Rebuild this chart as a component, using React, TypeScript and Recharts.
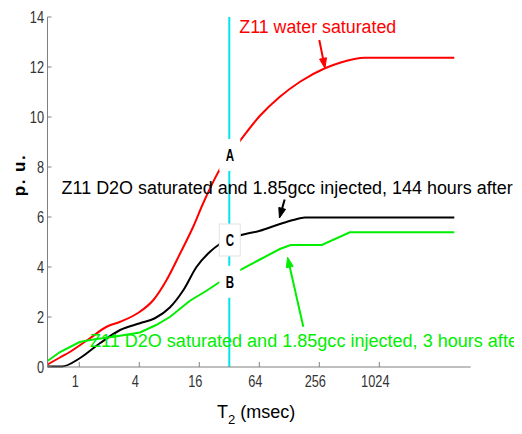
import React from 'react';
import { LineChart, Line, XAxis, YAxis, ReferenceLine, ReferenceDot } from 'recharts';

// T2 (msec) and porosity units
const waterT2 = [0.48, 0.64, 0.81, 1.28, 1.88, 2.57, 3.92, 5.54, 7.52, 10.3, 13.9, 17.5, 27.9, 32, 38, 65, 103, 164, 292, 413, 734, 5793];
const waterPu = [0.1, 0.38, 0.61, 1.15, 1.61, 1.81, 2.17, 2.68, 3.48, 4.55, 5.61, 6.55, 8.15, 8.5, 8.88, 10.05, 10.81, 11.41, 11.95, 12.17, 12.37, 12.37];

const h144T2 = [0.48, 0.67, 1.01, 1.61, 2.57, 4.06, 5.74, 8.1, 11.1, 15.0, 20.5, 24.9, 32, 41, 65, 103, 140, 184, 5793];
const h144Pu = [0.02, 0.02, 0.35, 0.95, 1.48, 1.75, 1.95, 2.38, 3.08, 4.0, 4.61, 4.88, 5.1, 5.26, 5.45, 5.72, 5.88, 5.98, 5.98];

const h3T2 = [0.48, 0.64, 1.01, 1.38, 2.3, 4.06, 5.9, 8.1, 12.9, 18.9, 26.7, 32, 41, 65, 103, 132, 271, 519, 5793];
const h3Pu = [0.24, 0.6, 1.0, 1.1, 1.22, 1.38, 1.68, 2.0, 2.65, 3.05, 3.45, 3.6, 3.88, 4.3, 4.72, 4.88, 4.88, 5.39, 5.39];

const xTicks = [1, 4, 16, 64, 256, 1024];
const yTicks = [0, 2, 4, 6, 8, 10, 12, 14];
const xDomain = [0.48, 8460];
const yDomain = [0, 14];

const cutoffT2 = 32;
const markerLetters = ['A', 'C', 'B'];
const markerPu = [8.48, 5.08, 3.41];

const noteTexts = [
  'Z11 water saturated',
  'Z11 D2O saturated and 1.85gcc injected, 144 hours after',
  'Z11 D2O saturated and 1.85gcc injected, 3 hours after',
];
const noteT2 = [40.3, 0.665, 1.28];
const notePu = [13.36, 6.92, 0.81];
const arrowFromT2 = [256, 115, 177];
const arrowFromPu = [13.08, 6.7, 1.61];
const arrowToT2 = [292, 102, 123];
const arrowToPu = [11.95, 5.96, 4.39];

// styling (not data)
const colors = ['#ff0000', '#000000', '#00ee00'];
const curveTypes = ['monotone', 'monotone', 'linear'];
const noteWidths = [157, 451, 434];

const toRows = (ts: number[], vs: number[]) => ts.map((t, i) => ({ t, v: vs[i] }));
const series = [toRows(waterT2, waterPu), toRows(h144T2, h144Pu), toRows(h3T2, h3Pu)];
const seriesNames = ['water', 'h144', 'h3'];

const tickFont = '"Liberation Sans", Arial, sans-serif';
const textFont = '"Liberation Sans", Arial, sans-serif';
const NARROW = 0.8;

const XTick = (props: any) => {
  const { x, y, payload } = props;
  return (
    <text
      transform={`translate(${x - 4}, ${y}) scale(${NARROW}, 1)`}
      x={0}
      y={0}
      dy="0.71em"
      textAnchor="middle"
      fontFamily={tickFont}
      fontSize={16}
      fill="#333"
    >
      {String(payload.value)}
    </text>
  );
};

const YTick = (props: any) => {
  const { x, y, payload } = props;
  return (
    <text
      transform={`translate(${x}, ${y}) scale(${NARROW}, 1)`}
      x={0}
      y={0}
      dy="0.36em"
      textAnchor="end"
      fontFamily={tickFont}
      fontSize={16}
      fill="#333"
    >
      {String(payload.value)}
    </text>
  );
};

const makeArrow = (color: string) => (p: any) => {
  const { x1, y1, x2, y2 } = p;
  if (![x1, y1, x2, y2].every((n) => typeof n === 'number' && isFinite(n))) return <g />;
  const ang = Math.atan2(y2 - y1, x2 - x1);
  const len = 10;
  const hw = 3.5;
  const bx = x2 - len * Math.cos(ang);
  const by = y2 - len * Math.sin(ang);
  const px = -Math.sin(ang);
  const py = Math.cos(ang);
  return (
    <g>
      <line x1={x1} y1={y1} x2={bx} y2={by} stroke={color} strokeWidth={2} />
      <polygon
        points={`${x2},${y2} ${bx + px * hw},${by + py * hw} ${bx - px * hw},${by - py * hw}`}
        fill={color}
        stroke={color}
        strokeWidth={1}
      />
    </g>
  );
};

const makeNote = (text: string, color: string, width: number) => (p: any) => (
  <text
    x={p.cx}
    y={p.cy}
    fontFamily={textFont}
    fontSize={18}
    fill={color}
    textLength={width}
    lengthAdjust="spacingAndGlyphs"
  >
    {text}
  </text>
);

const makeMarker = (letter: string, border: boolean) => (p: any) => (
  <g>
    <rect
      x={p.cx - 10}
      y={p.cy - 16}
      width={21}
      height={32}
      fill="#ffffff"
      stroke={border ? '#e4e4e4' : 'none'}
      strokeWidth={1}
    />
    <text
      transform={`translate(${p.cx + 0.5}, ${p.cy}) scale(0.72, 1)`}
      x={0}
      y={0}
      dy="0.36em"
      textAnchor="middle"
      fontFamily={tickFont}
      fontWeight="bold"
      fontSize={16}
      fill="#000"
    >
      {letter}
    </text>
  </g>
);

const XLabel = (props: any) => {
  const vb = props.viewBox || { x: 0, y: 0, width: 0, height: 0 };
  return (
    <text x={vb.x + vb.width / 2 - 3} y={vb.y + 51} textAnchor="middle" fontFamily={textFont} fontSize={18} fill="#000">
      T
      <tspan fontSize={13} dy={6}>2</tspan>
      <tspan dy={-6}> (msec)</tspan>
    </text>
  );
};

const YLabel = (props: any) => {
  const vb = props.viewBox || { x: 0, y: 0, width: 0, height: 0 };
  const cx = vb.x + 7;
  const cy = vb.y + 158;
  return (
    <text
      x={cx}
      y={cy}
      transform={`rotate(-90, ${cx}, ${cy})`}
      textAnchor="middle"
      fontFamily={textFont}
      fontWeight="bold"
      fontSize={17}
      letterSpacing={1.5}
      fill="#000"
    >
      p. u.
    </text>
  );
};

export default function App() {
  return (
    <div style={{ width: 514, height: 426, background: '#fff' }}>
      <LineChart width={514} height={426} margin={{ top: 9, right: 51.3, bottom: 27, left: 9.5 }}>
        <XAxis
          type="number"
          dataKey="t"
          scale="log"
          domain={xDomain}
          allowDataOverflow
          ticks={xTicks}
          interval={0}
          height={40}
          axisLine={{ stroke: '#808080', strokeWidth: 1 }}
          tickLine={{ stroke: '#808080', strokeWidth: 1 }}
          tickSize={-5}
          tickMargin={14}
          tick={<XTick />}
          label={<XLabel />}
        />
        <YAxis
          type="number"
          domain={yDomain}
          ticks={yTicks}
          interval={0}
          width={30}
          axisLine={{ stroke: '#808080', strokeWidth: 1 }}
          tickLine={{ stroke: '#808080', strokeWidth: 1 }}
          tickSize={-4}
          tickMargin={7.5}
          tick={<YTick />}
          label={<YLabel />}
        />
        <ReferenceLine x={cutoffT2} stroke="#00e5ee" strokeWidth={2} ifOverflow="visible" />
        {series.map((d, i) => (
          <Line
            key={seriesNames[i]}
            data={d}
            dataKey="v"
            type={curveTypes[i] as any}
            stroke={colors[i]}
            strokeWidth={2}
            dot={false}
            activeDot={false}
            isAnimationActive={false}
          />
        ))}
        {markerLetters.map((l, i) => (
          <ReferenceDot
            key={'m' + l}
            x={cutoffT2}
            y={markerPu[i]}
            r={0}
            ifOverflow="visible"
            zIndex={1500}
            shape={makeMarker(l, l === 'C')}
          />
        ))}
        {noteTexts.map((t, i) => (
          <ReferenceLine
            key={'a' + i}
            segment={[
              { x: arrowFromT2[i], y: arrowFromPu[i] },
              { x: arrowToT2[i], y: arrowToPu[i] },
            ]}
            ifOverflow="visible"
            zIndex={1600}
            shape={makeArrow(colors[i])}
          />
        ))}
        {noteTexts.map((t, i) => (
          <ReferenceDot
            key={'n' + i}
            x={noteT2[i]}
            y={notePu[i]}
            r={0}
            ifOverflow="visible"
            zIndex={1700}
            shape={makeNote(t, colors[i], noteWidths[i])}
          />
        ))}
      </LineChart>
    </div>
  );
}
